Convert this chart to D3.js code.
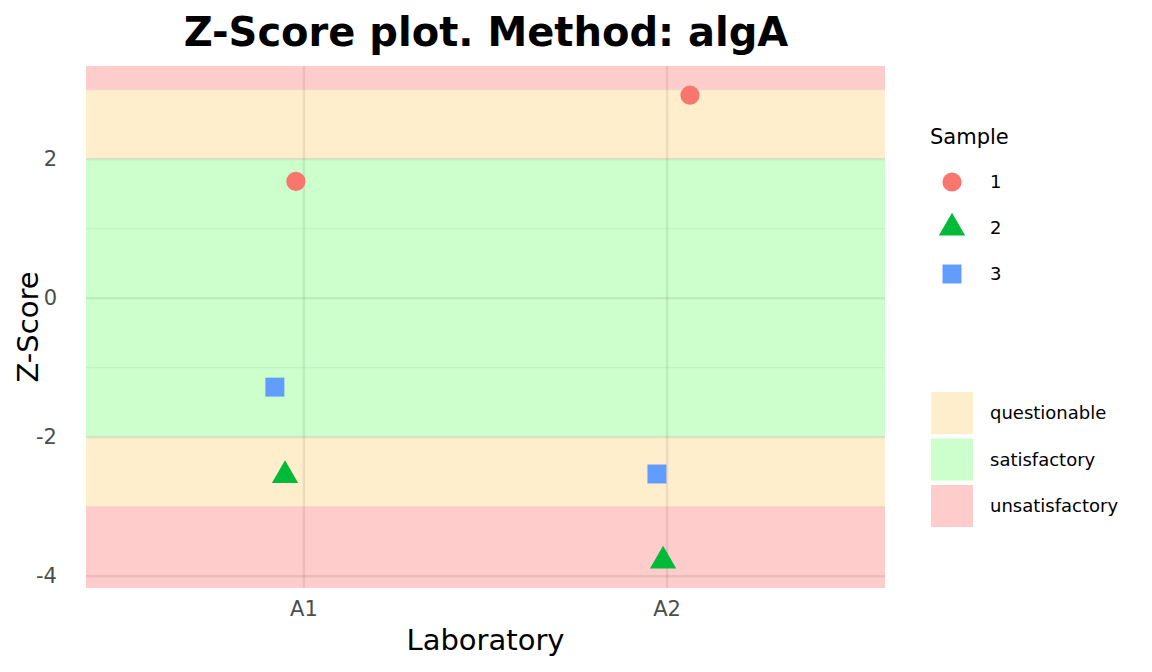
<!DOCTYPE html>
<html><head><meta charset="utf-8">
<script src="https://cdn.jsdelivr.net/npm/d3@7"></script>
<style>body{margin:0;background:#fff}</style></head>
<body><svg id="c" width="1152" height="672"></svg>
<script>
const labs = ["A1","A2"];
const samples = ["1","2","3"];
const sampleColors = ["#F8766D","#00BA38","#619CFF"];
const zA1 = [1.68,-2.55,-1.28];
const zA2 = [2.92,-3.78,-2.53];
const jitA1 = [-0.022,-0.052,-0.08];
const jitA2 = [0.063,-0.011,-0.028];
const yTicks = [-4,-2,0,2];
const bandNames = ["unsatisfactory","questionable","satisfactory","questionable","unsatisfactory"];
const bandLo = [3,2,-2,-3,-10];
const bandHi = [10,3,2,-2,-3];
const bandColors = {questionable:"#ffeecc",satisfactory:"#ccffcc",unsatisfactory:"#ffcccc"};
const legendBands = ["questionable","satisfactory","unsatisfactory"];

const svg = d3.select("#c");
const L=86,R=885,T=66,B=588;
const y = d3.scaleLinear().domain([-4.17,3.34]).range([B,T]);
const xb = d3.scalePoint().domain(labs).range([L,R]).padding(0.6);
const step = xb.step();
const xPos=(lab,j)=>xb(lab)+j*step;

svg.append("clipPath").attr("id","pc").append("rect").attr("x",L).attr("y",T).attr("width",R-L).attr("height",B-T);
const g = svg.append("g").attr("clip-path","url(#pc)");
bandNames.forEach((n,i)=>{
  const top=y(Math.min(bandHi[i],3.34)), bot=y(Math.max(bandLo[i],-4.17));
  g.append("rect").attr("x",L).attr("width",R-L).attr("y",top).attr("height",bot-top).attr("fill",bandColors[n]);
});
[-3,-1,1,3].forEach(v=>g.append("line").attr("x1",L).attr("x2",R).attr("y1",y(v)).attr("y2",y(v)).attr("stroke","#000").attr("stroke-opacity",0.05).attr("stroke-width",1.2));
yTicks.forEach(v=>g.append("line").attr("x1",L).attr("x2",R).attr("y1",y(v)).attr("y2",y(v)).attr("stroke","#000").attr("stroke-opacity",0.08).attr("stroke-width",2.4));
labs.forEach(l=>g.append("line").attr("x1",xb(l)).attr("x2",xb(l)).attr("y1",T).attr("y2",B).attr("stroke","#000").attr("stroke-opacity",0.08).attr("stroke-width",2.4));

const shapes=[d3.symbolCircle,d3.symbolTriangle,d3.symbolSquare];
const sizes=[290,300,360];
const pts=[];
samples.forEach((s,i)=>{pts.push({lab:"A1",z:zA1[i],j:jitA1[i],i});pts.push({lab:"A2",z:zA2[i],j:jitA2[i],i});});
svg.selectAll(".pt").data(pts).join("path").attr("d",d=>d3.symbol(shapes[d.i],sizes[d.i])())
 .attr("transform",d=>`translate(${xPos(d.lab,d.j)},${y(d.z)})`).attr("fill",d=>sampleColors[d.i]);

const f="DejaVu Sans, sans-serif";
yTicks.forEach(v=>svg.append("text").attr("x",L-29).attr("y",y(v)+7).attr("text-anchor","end").attr("font-family",f).attr("font-size",21).attr("fill","#4d4d4d").text(v));
labs.forEach(l=>svg.append("text").attr("x",xb(l)).attr("y",616).attr("text-anchor","middle").attr("font-family",f).attr("font-size",21).attr("fill","#4d4d4d").text(l));
svg.append("text").attr("x",(L+R)/2).attr("y",650).attr("text-anchor","middle").attr("font-family",f).attr("font-size",29).text("Laboratory");
svg.append("text").attr("transform",`translate(38,${(T+B)/2}) rotate(-90)`).attr("text-anchor","middle").attr("font-family",f).attr("font-size",29).text("Z-Score");
svg.append("text").attr("x",486).attr("y",46).attr("text-anchor","middle").attr("font-family",f).attr("font-size",40).attr("font-weight","bold").text("Z-Score plot. Method: algA");

svg.append("text").attr("x",930).attr("y",144).attr("font-family",f).attr("font-size",21).text("Sample");
samples.forEach((s,i)=>{
  const yy=182+i*46;
  svg.append("path").attr("d",d3.symbol(shapes[i],sizes[i])()).attr("transform",`translate(952,${yy})`).attr("fill",sampleColors[i]);
  svg.append("text").attr("x",990).attr("y",yy+6).attr("font-family",f).attr("font-size",18).text(s);
});
legendBands.forEach((n,i)=>{
  const yy=392+i*46.5;
  svg.append("rect").attr("x",931).attr("y",yy).attr("width",42).attr("height",42).attr("fill",bandColors[n]);
  svg.append("text").attr("x",990).attr("y",yy+27).attr("font-family",f).attr("font-size",18).text(n);
});
</script></body></html>
